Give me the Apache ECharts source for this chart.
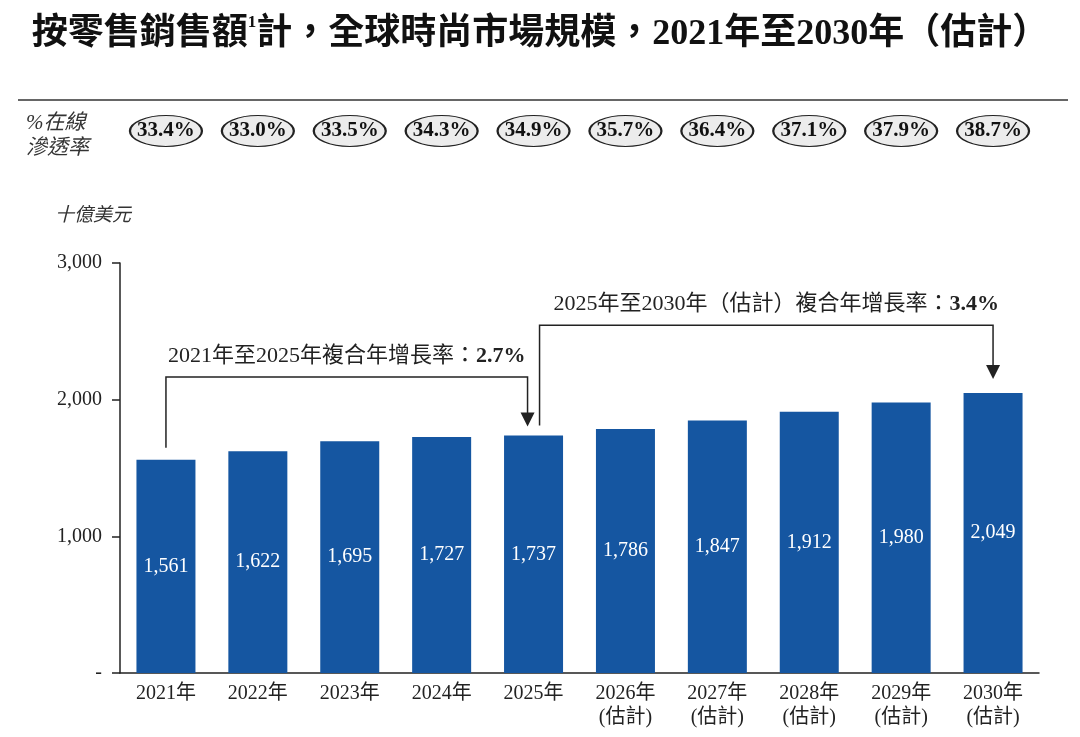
<!DOCTYPE html>
<html lang="zh-Hant">
<head>
    <meta charset="UTF-8">
    <title>全球時尚市場規模</title>
    <style>
        html, body { margin: 0; padding: 0; background: #fff; }
        #main { width: 1080px; height: 737px; }
    </style>
</head>
<body>
<div id="main"></div>
<script src="https://cdn.jsdelivr.net/npm/echarts@6/dist/echarts.min.js"></script>
<script>
    // 數據
    const years = ['2021年', '2022年', '2023年', '2024年', '2025年', '2026年', '2027年', '2028年', '2029年', '2030年'];
    const isEstimate = [false, false, false, false, false, true, true, true, true, true];
    const marketSize = [1561, 1622, 1695, 1727, 1737, 1786, 1847, 1912, 1980, 2049]; // 十億美元
    const onlinePenetration = [33.4, 33.0, 33.5, 34.3, 34.9, 35.7, 36.4, 37.1, 37.9, 38.7]; // %
    const yTicks = [0, 1000, 2000, 3000];
    const cagrFrom = [0, 4];
    const cagrTo = [4, 9];
    const cagrText = ['2021年至2025年複合年增長率：', '2025年至2030年（估計）複合年增長率：'];
    const cagrRate = ['2.7%', '3.4%'];

    const SERIF = "'Liberation Serif', 'Noto Sans CJK TC', serif";
    const INK = '#222';
    const BLUE = '#1556a1';

    const chart = echarts.init(document.getElementById('main'));

    const option = {
        animation: false,
        textStyle: { fontFamily: SERIF },
        title: {
            left: 'center',
            top: 9,
            text: '{a|按零售銷售額}{s|1}{a|計，全球時尚市場規模，2021年至2030年（估計）}',
            textStyle: {
                rich: {
                    a: { fontFamily: SERIF, fontSize: 36, fontWeight: 'bold', color: '#111', lineHeight: 42 },
                    s: { fontFamily: SERIF, fontSize: 17, fontWeight: 'bold', color: '#111', lineHeight: 24, verticalAlign: 'top' }
                }
            }
        },
        grid: [
            { left: 120, right: 41, top: 263, bottom: 64 },   // 柱狀圖
            { left: 120, right: 41, top: 116, height: 30 }    // 在線滲透率
        ],
        xAxis: [
            {
                type: 'category',
                gridIndex: 0,
                data: years,
                axisTick: { show: false },
                axisLine: { lineStyle: { color: INK, width: 1.5 } },
                axisLabel: {
                    margin: 9,
                    color: INK,
                    fontSize: 20,
                    lineHeight: 24,
                    fontFamily: SERIF,
                    formatter: (v, i) => isEstimate[i] ? v + '\n(估計)' : v
                }
            },
            { type: 'category', gridIndex: 1, data: years, show: false }
        ],
        yAxis: [
            {
                type: 'value',
                gridIndex: 0,
                min: yTicks[0],
                max: yTicks[yTicks.length - 1],
                interval: 1000,
                splitLine: { show: false },
                axisLine: { show: true, lineStyle: { color: INK, width: 1.5 } },
                axisTick: { show: true, length: 8, lineStyle: { color: INK, width: 1.5 } },
                axisLabel: {
                    margin: 18,
                    color: INK,
                    fontSize: 20,
                    fontFamily: SERIF,
                    formatter: v => v === 0 ? '-' : v.toLocaleString('en-US')
                }
            },
            { type: 'value', gridIndex: 1, min: -1, max: 1, show: false }
        ],
        series: [
            {
                type: 'bar',
                xAxisIndex: 0,
                yAxisIndex: 0,
                data: marketSize,
                barWidth: 59,
                itemStyle: { color: BLUE },
                label: {
                    show: true,
                    position: 'inside',
                    color: '#fff',
                    fontSize: 20,
                    fontFamily: SERIF,
                    formatter: p => p.value.toLocaleString('en-US')
                }
            },
            {
                type: 'scatter',
                xAxisIndex: 1,
                yAxisIndex: 1,
                data: onlinePenetration.map((v, i) => [i, 0, v]),
                symbol: 'path://M0,50 A50,50 0 1,1 100,50 A50,50 0 1,1 0,50 Z',
                symbolSize: [72, 31],
                itemStyle: { color: '#ececec', borderColor: INK, borderWidth: 1.5, opacity: 1 },
                label: {
                    show: true,
                    position: 'inside',
                    color: '#111',
                    fontSize: 21,
                    fontWeight: 'bold',
                    fontFamily: SERIF,
                    formatter: p => p.value[2].toFixed(1) + '%'
                }
            }
        ]
    };

    chart.setOption(option);

    // 標註：分隔線、單位、複合年增長率箭頭
    const px = (i, v) => chart.convertToPixel({ seriesIndex: 0 }, [i, v]);
    const graphics = [
        {
            type: 'line',
            shape: { x1: 18, y1: 100, x2: 1068, y2: 100 },
            style: { stroke: '#333', lineWidth: 1.5 }
        },
        {
            type: 'text', left: 26, top: 111,
            style: { text: '%在線\n滲透率', fontFamily: SERIF, fontStyle: 'italic', fontSize: 21, lineHeight: 25, fill: '#333' }
        },
        {
            type: 'text', left: 55, top: 206,
            style: { text: '十億美元', fontFamily: SERIF, fontStyle: 'italic', fontSize: 19, fill: '#333' }
        }
    ];

    const levels = [2165, 2545];       // 括號橫線高度（數值刻度）
    const startGap = [12, 10];
    const tipGap = [9, 14];
    const xShift = [[0, -6], [6, 0]];
    const textShift = [0, 10];

    cagrFrom.forEach((from, k) => {
        const to = cagrTo[k];
        const x0 = px(from, 0)[0] + xShift[k][0];
        const x1 = px(to, 0)[0] + xShift[k][1];
        const y0 = px(from, marketSize[from])[1] - startGap[k];
        const yl = px(from, levels[k])[1];
        const tip = px(to, marketSize[to])[1] - tipGap[k];
        graphics.push({
            type: 'polyline',
            shape: { points: [[x0, y0], [x0, yl], [x1, yl], [x1, tip - 13]] },
            style: { stroke: INK, lineWidth: 1.5, fill: null }
        });
        graphics.push({
            type: 'polygon',
            shape: { points: [[x1 - 7, tip - 14], [x1 + 7, tip - 14], [x1, tip]] },
            style: { fill: INK }
        });
        graphics.push({
            type: 'text',
            x: (x0 + x1) / 2 + textShift[k],
            y: yl - 21,
            style: {
                text: '{n|' + cagrText[k] + '}{b|' + cagrRate[k] + '}',
                align: 'center',
                verticalAlign: 'middle',
                rich: {
                    n: { fontFamily: SERIF, fontSize: 22, fill: INK },
                    b: { fontFamily: SERIF, fontSize: 22, fontWeight: 'bold', fill: INK }
                }
            }
        });
    });

    chart.setOption({ graphic: graphics });
</script>
</body>
</html>
